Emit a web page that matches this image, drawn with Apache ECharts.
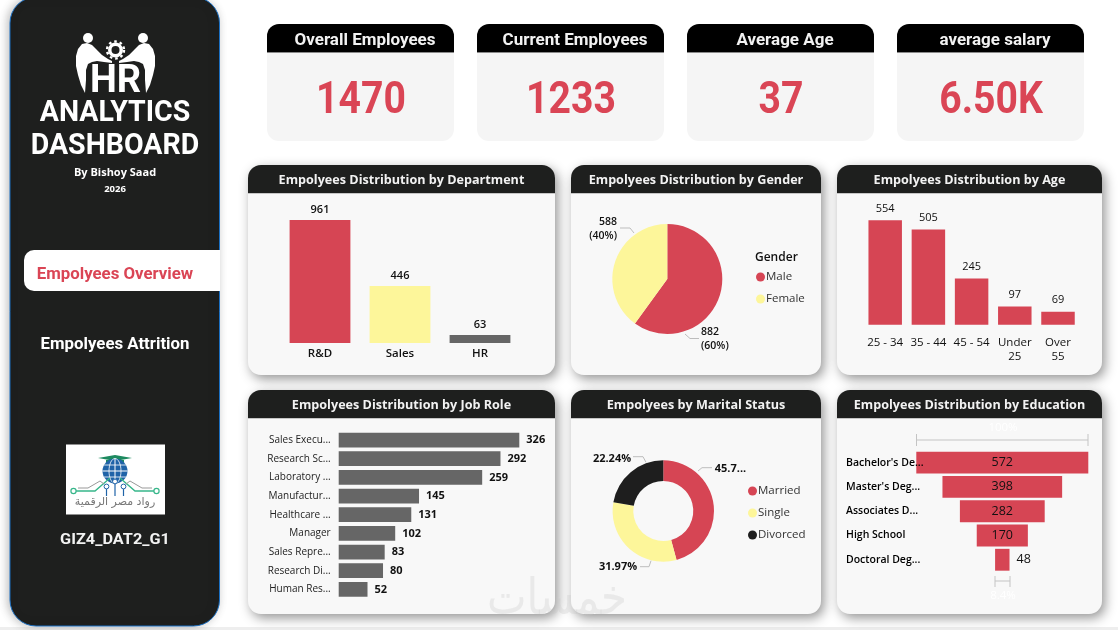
<!DOCTYPE html>
<html><head><meta charset="utf-8">
<style>html,body{margin:0;padding:0;background:#fff}#c{width:1118px;height:630px}</style>
<script src="https://cdn.jsdelivr.net/npm/echarts@6/dist/echarts.min.js"></script>
</head><body><div id="c"></div>
<script>
// ---- data ----
const kpiTitles = ['Overall Employees','Current Employees','Average Age','average salary'];
const kpiValues = ['1470','1233','37','6.50K'];
const deptCats = ['R&D','Sales','HR'];
const deptVals = [961,446,63];
const genderCats = ['Male','Female'];
const genderVals = [882,588];
const ageCats = ['25 - 34','35 - 44','45 - 54','Under\n25','Over\n55'];
const ageVals = [554,505,245,97,69];
const roleCats = ['Sales Execu...','Research Sc...','Laboratory ...','Manufactur...','Healthcare ...','Manager','Sales Repre...','Research Di...','Human Res...'];
const roleVals = [326,292,259,145,131,102,83,80,52];
const maritalCats = ['Married','Single','Divorced'];
const maritalVals = [45.79,31.97,22.24];
const maritalLabels = ['45.7...','31.97%','22.24%'];
const eduCats = ["Bachelor's De...","Master's Deg...",'Associates D...','High School','Doctoral Deg...'];
const eduVals = [572,398,282,170,48];

// ---- style ----
const RED='#D64554', YEL='#FDF69A', GREY='#666666', DARK='#1E1F1E', KRED='#DA4555';
const SANS='"Open Sans",sans-serif', DIN='Roboto,sans-serif', INK='#111111';
const g=[];
function txt(x,y,s,size,fill,weight,opt){opt=opt||{};
  g.push({type:'text',x:x,y:y,scaleX:opt.sx||1,z:opt.z||5,silent:true,style:{text:s,x:0,y:0,fill:fill,
    font:(weight||400)+' '+size+'px '+(opt.fam||SANS),textAlign:opt.align||'center',align:opt.align||'center',
    textVerticalAlign:'middle',verticalAlign:'middle',opacity:opt.op==null?1:opt.op}});}
function rect(x,y,w,h,r,fill,extra,z){g.push({type:'rect',z:z==null?1:z,silent:true,shape:{x:x,y:y,width:w,height:h,r:r},style:Object.assign({fill:fill},extra||{})});}
function circ(x,y,r,fill,extra){g.push({type:'circle',z:3,silent:true,shape:{cx:x,cy:y,r:r},style:Object.assign({fill:fill},extra||{})});}
function poly(pts,fill,smooth){g.push({type:'polygon',z:3,silent:true,shape:{points:pts,smooth:smooth||0},style:{fill:fill}});}
function pline(pts,stroke,w,z){g.push({type:'polyline',z:z||3,silent:true,shape:{points:pts},style:{stroke:stroke,lineWidth:w||1,fill:null}});}

// sidebar
rect(10,-3,209.5,629,26,DARK,{stroke:'#1b6fc2',lineWidth:1,shadowBlur:10,shadowColor:'rgba(0,0,0,.25)',shadowOffsetX:-2});
// HR logo
circ(88,38,5,'#fff'); circ(143,38,5,'#fff');
[1,-1].forEach(function(m){const f=function(p){return p.map(function(q){return [m>0?q[0]:231-q[0],q[1]];});};
  poly(f([[82,44],[87,43],[92,45],[96,49],[102,55],[108,59],[112,61],[112,63],[104,62],[97,61],[92,62],[88,64],[86,70],[86,80],[85,93],[81,85],[78,75],[76,66],[76,56],[78,49]]),'#fff');
});
g.push({type:'ring',z:3,silent:true,shape:{cx:115.5,cy:50,r:7.5,r0:4},style:{fill:'#fff'}});
g.push({type:'circle',z:3,silent:true,shape:{cx:115.5,cy:50,r:8.5},style:{fill:null,stroke:'#fff',lineWidth:2.4,lineDash:[2.6,2.9]}});
txt(115.5,82,'HR',38,'#fff',700,{fam:DIN});
txt(115,113,'ANALYTICS',30,'#fff',700,{fam:DIN,sx:.95});
txt(115,146,'DASHBOARD',30,'#fff',700,{fam:DIN,sx:.95});
txt(115,173,'By Bishoy Saad',11,'#fff',700);
txt(115,189,'2026',9.5,'#fff',700);
// nav
rect(24,250,196,41,[10,0,0,10],'#fff',null,2);
txt(115,275,'Empolyees Overview',16,KRED,700,{fam:DIN,sx:1.05});
txt(115,345,'Empolyees Attrition',16,'#fff',700,{fam:DIN,sx:1.05});
// partner logo
rect(66,444.5,99,70,0,'#fff',null,2);
poly([[115,455],[132,458],[115,461],[98,458]],'#1d8a5f');
poly([[106,460],[124,460],[124,463],[106,463]],'#1d8a5f');
circ(115,471,12.5,'#1f63a8');
pline([[102.5,471],[127.5,471]],'#fff',1);pline([[115,458.5],[115,483.5]],'#fff',1);
pline([[104,465],[126,465]],'#fff',.8);pline([[104,477],[126,477]],'#fff',.8);
g.push({type:'ellipse',z:3,silent:true,shape:{cx:115,cy:471,rx:6,ry:12.5},style:{fill:null,stroke:'#fff',lineWidth:.8}});
pline([[76,491],[95,491],[110,478]],'#37b68a',1.4);pline([[154,491],[135,491],[120,478]],'#37b68a',1.4);
pline([[78,488],[88,488],[100,481],[104,484]],'#999',1);pline([[152,488],[142,488],[130,481],[126,484]],'#999',1);
[[73.5,491,2.6],[156.5,491,2.6]].forEach(function(c){circ(c[0],c[1],c[2],'#fff',{stroke:'#37b68a',lineWidth:1.2});});
[[106.5,486.5,496],[115,481.5,496],[123.5,486.5,496]].forEach(function(c){pline([[c[0],c[1]],[c[0],c[2]]],'#1f63a8',1.2);circ(c[0],c[1],2.4,'#fff',{stroke:'#1f63a8',lineWidth:1});});
txt(115,502,'رواد مصر الرقمية',11,'#777',400,{fam:'"DejaVu Sans"'});
txt(115,540,'GIZ4_DAT2_G1',15.5,'#f2f2f2',700,{fam:DIN,sx:1.05});

// KPI cards
[267,477,687,897].forEach(function(x,i){
  rect(x,24,187,117,12,'#F5F5F5');
  rect(x,24,187,28,[12,12,0,0],'#000');
  rect(x,52,187,1,0,'#8a8a8a',null,1.5);
  txt(x+98,40.5,kpiTitles[i],16.5,'#f2f2f2',700,{fam:DIN,sx:1.03});
  txt(x+94,101.5,kpiValues[i],44,KRED,700,{fam:DIN,sx:.89});
});
// chart cards
const SH={shadowBlur:12,shadowColor:'rgba(0,0,0,.42)',shadowOffsetX:3,shadowOffsetY:4};
[[248,165,307,210,'Empolyees Distribution by Department'],[571,165,250,210,'Empolyees Distribution by Gender'],[837,165,265,210,'Empolyees Distribution by Age'],
 [248,390,307,224,'Empolyees Distribution by Job Role'],[571,390,250,224,'Empolyees by Marital Status'],[837,390,265,224,'Empolyees Distribution by Education']].forEach(function(c){
  rect(c[0],c[1],c[2],c[3],13,'#F8F8F8',SH);
  rect(c[0],c[1],c[2],28,[13,13,0,0],DARK,null,1.2);
  rect(c[0],c[1]+28,c[2],1,0,'#c6c6c6',null,1.5);
  txt(c[0]+c[2]/2,c[1]+15.5,c[4],13,'#f2f2f2',700,{sx:.97});
});
// gender legend title
txt(755,258,'Gender',12,INK,600,{align:'left'});
// pie leader lines
const LL='#bdbdbd';
pline([[620,228],[630,228],[634,233]],LL,1,5);
pline([[685,334],[690,338.5],[699,338.5]],LL,1,5);
pline([[698,471],[702,467.7],[712,467.7]],LL,1,5);
pline([[633,456.7],[643,456.7],[646,462.3]],LL,1,5);
pline([[640,566.7],[649,566.7],[651,560.7]],LL,1,5);
// funnel conversion brackets
pline([[916.5,440],[1088,440]],'#c4c4c4',1);pline([[916.5,434],[916.5,446]],'#c4c4c4',1);pline([[1088,434],[1088,446]],'#c4c4c4',1);
pline([[995,581],[1010,581]],'#c4c4c4',1);pline([[995,576],[995,587]],'#c4c4c4',1);pline([[1010,576],[1010,587]],'#c4c4c4',1);
txt(1003,428,'100%',11.5,'#fff',400);
txt(1003,596,'8.4%',11.5,'#fff',400);
// watermark + bottom strip
rect(0,627,1118,3,0,'#eeeeee',null,.5);
txt(557,601,'خمسات',50,'#c8c8c8',400,{fam:'"DejaVu Sans"',z:20,op:.3,sx:.84});

// ---- axes and series ----
const noLine={show:false}, noTick={show:false}, noSplit={show:false};
function catAxis(i,data,label,extra){return Object.assign({type:'category',z:4,gridIndex:i,data:data,axisLine:noLine,axisTick:noTick,splitLine:noSplit,axisLabel:label},extra||{});}
function valAxis(i,max,min){return {type:'value',gridIndex:i,min:min||0,max:max,show:false,splitLine:noSplit};}
const lab={color:INK,fontFamily:SANS,fontSize:10.5,fontWeight:600};
const grids=[
 {left:280,top:220,width:240,height:123},
 {left:863.6,top:220.3,width:216,height:104.4},
 {left:338.7,top:430.7,width:180.6,height:168},
 {left:916.3,top:450.5,width:172,height:121.4}
];
const option={
 animation:false,backgroundColor:'#fff',
 graphic:{elements:g},
 grid:grids,
 xAxis:[
  catAxis(0,deptCats,Object.assign({},lab,{margin:5,fontSize:11.5})),
  catAxis(1,ageCats,Object.assign({},lab,{margin:11,lineHeight:14,interval:0,fontSize:11.5,fontWeight:500})),
  valAxis(2,326), valAxis(3,572)
 ],
 yAxis:[
  valAxis(0,961), valAxis(1,554),
  catAxis(2,roleCats,Object.assign({},lab,{margin:8,interval:0,fontWeight:400,fontSize:10,color:'#222'}),{inverse:true}),
  catAxis(3,eduCats,Object.assign({},lab,{margin:70.3,align:'left',interval:0,fontWeight:600,fontSize:10.5,color:'#000'}),{inverse:true})
 ],
 legend:[
  {left:751,top:266,orient:'vertical',icon:'circle',itemWidth:9,itemHeight:9,itemGap:10,data:genderCats,selectedMode:false,textStyle:{color:'#333',fontFamily:SANS,fontSize:11.5,padding:[0,0,0,-4]}},
  {left:743,top:480,orient:'vertical',icon:'circle',itemWidth:9,itemHeight:9,itemGap:10,data:maritalCats,selectedMode:false,textStyle:{color:'#333',fontFamily:SANS,fontSize:11.5,padding:[0,0,0,-4]}}
 ],
 series:[
  {type:'bar',xAxisIndex:0,yAxisIndex:0,barCategoryGap:'24%',
   data:deptVals.map(function(v,i){return {value:v,itemStyle:{color:[RED,YEL,GREY][i]}};}),
   label:{show:true,position:'top',distance:5,color:'#111',fontFamily:SANS,fontSize:11,fontWeight:600}},
  {type:'bar',xAxisIndex:1,yAxisIndex:1,barCategoryGap:'22.5%',itemStyle:{color:RED},data:ageVals,
   label:{show:true,position:'top',distance:6,color:'#111',fontFamily:SANS,fontSize:11,fontWeight:500}},
  {type:'bar',xAxisIndex:2,yAxisIndex:2,barCategoryGap:'21%',itemStyle:{color:GREY},data:roleVals,
   label:{show:true,position:'right',distance:7,color:'#111',fontFamily:SANS,fontSize:11,fontWeight:700}},
  {type:'bar',xAxisIndex:3,yAxisIndex:3,stack:'f',silent:true,barCategoryGap:'10%',itemStyle:{color:'transparent'},
   data:eduVals.map(function(v){return (eduVals[0]-v)/2;}),label:{show:false}},
  {type:'bar',xAxisIndex:3,yAxisIndex:3,stack:'f',barCategoryGap:'10%',itemStyle:{color:RED},
   data:eduVals.map(function(v,i){return i===eduVals.length-1?{value:v,label:{position:'right',distance:7}}:v;}),
   label:{show:true,position:'inside',color:'#111',fontFamily:SANS,fontSize:12.5,fontWeight:400}},
  {type:'pie',center:[667.3,279],radius:[0,55],startAngle:90,clockwise:true,
   data:genderCats.map(function(n,i){return {name:n,value:genderVals[i],itemStyle:{color:[RED,YEL][i]}};}),
   label:{show:true,formatter:'{c}\n({d}%)',color:'#111',fontFamily:SANS,fontSize:10.5,fontWeight:600,lineHeight:14},
   labelLine:{show:false},
   labelLayout:function(p){return p.dataIndex===0?{x:701,y:339,align:'left',verticalAlign:'middle'}:{x:617,y:229,align:'right',verticalAlign:'middle'};}},
  {type:'pie',center:[663.3,511],radius:[30,50.7],startAngle:90,clockwise:true,
   data:maritalCats.map(function(n,i){return {name:n,value:maritalVals[i],itemStyle:{color:[RED,YEL,'#1E1E1E'][i]}};}),
   label:{show:true,formatter:function(p){return maritalLabels[p.dataIndex];},color:'#111',fontFamily:SANS,fontSize:11,fontWeight:700},
   labelLine:{show:false},
   labelLayout:function(p){const q=[[730.5,469],[618,567],[612,458.5]][p.dataIndex];return {x:q[0],y:q[1],align:'center',verticalAlign:'middle'};}}
 ]
};
const chart=echarts.init(document.getElementById('c'),null,{renderer:'canvas'});
chart.setOption(option);
</script></body></html>
